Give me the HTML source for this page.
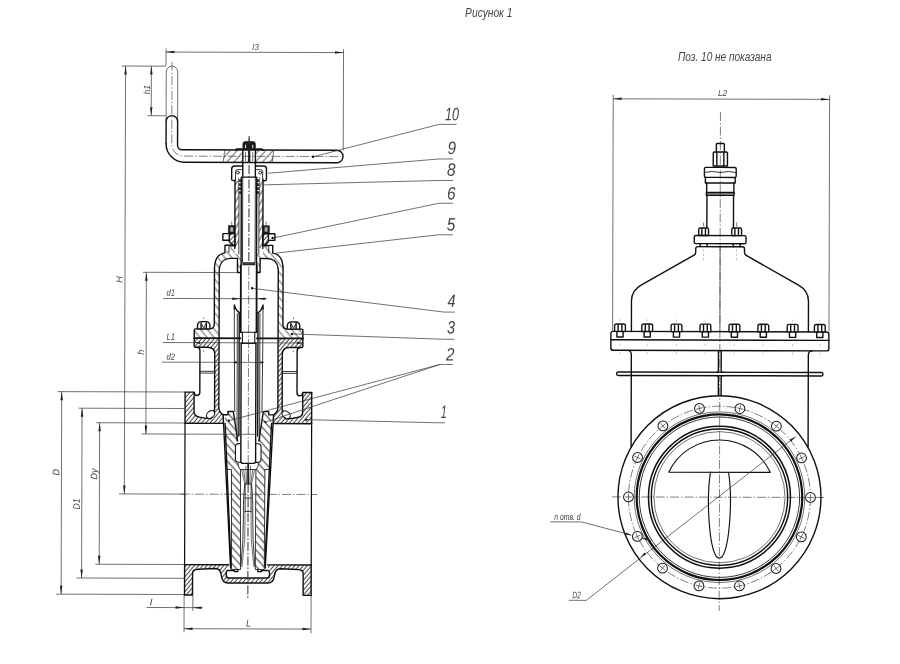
<!DOCTYPE html>
<html lang="ru"><head><meta charset="utf-8"><title>Рисунок 1</title>
<style>
html,body{margin:0;padding:0;background:#fff;}
body{width:900px;height:664px;overflow:hidden;}
svg{display:block;filter:blur(0.35px);}
.k{fill:none;stroke:#101010;stroke-width:1.4;stroke-linejoin:round;stroke-linecap:round;}
.m{fill:none;stroke:#222;stroke-width:0.9;stroke-linejoin:round;stroke-linecap:round;}
.t{fill:none;stroke:#333;stroke-width:0.7;}
.c{fill:none;stroke:#3a3a3a;stroke-width:0.65;stroke-dasharray:9 2 1.5 2;}
.d{fill:none;stroke:#888;stroke-width:0.5;stroke-dasharray:2.5 2;}
.ar{fill:#222;stroke:none;}
.bf{fill:#1a1a1a;stroke:#151515;stroke-width:0.6;}
.wf{fill:#fff;stroke:#151515;stroke-width:1.1;stroke-linejoin:round;}
.tx{font-family:"Liberation Sans",sans-serif;font-style:italic;fill:#444;}
.dot{fill:#111;}
</style></head>
<body>
<svg width="900" height="664" viewBox="0 0 900 664">
<defs>
<pattern id="hA" patternUnits="userSpaceOnUse" width="3.2" height="3.2" patternTransform="rotate(40)"><path d="M1 0V3.2" stroke="#111" stroke-width="0.8"/></pattern>
<pattern id="hD" patternUnits="userSpaceOnUse" width="5.4" height="5.4" patternTransform="rotate(-40)"><path d="M1 0V5.4" stroke="#222" stroke-width="0.7"/></pattern>
<pattern id="hT" patternUnits="userSpaceOnUse" width="4.4" height="4.4" patternTransform="rotate(30)"><path d="M1 0V4.4" stroke="#1c1c1c" stroke-width="0.8"/></pattern>
<pattern id="hB" patternUnits="userSpaceOnUse" width="5.4" height="5.4" patternTransform="rotate(-42)"><path d="M1 0V5.4" stroke="#181818" stroke-width="0.9"/></pattern>
<pattern id="hC" patternUnits="userSpaceOnUse" width="5.3" height="5.3" patternTransform="rotate(42)"><path d="M1 0V5.3" stroke="#222" stroke-width="0.7"/></pattern>
</defs>
<rect width="900" height="664" fill="#fff"/>
<g transform="rotate(0.17 249 330)">
<g id="leftview">
<path class="c" d="M248.6 136L248.6 598"/>
<path class="c" d="M181 494.3L318 494.3"/>
<path class="t" d="M165.5 121.5V72.1A5.75 5.75 0 0 1 177 72.1V121.5"/>
<path class="k" d="M165.5 144V121.6A5.75 5.75 0 0 1 177 121.6V145.5"/>
<path class="k" d="M165.5 144A18.5 18.5 0 0 0 184 162.5H336.25A6.25 6.25 0 0 0 336.25 150H181.5A4.5 4.5 0 0 1 177 145.5"/>
<path class="c" d="M171.2 62V144.5A11.8 11.8 0 0 0 183 156.3H340"/>
<path fill="url(#hC)" d="M224.3 150H242.2V162.5H222.6Z"/>
<path fill="url(#hC)" d="M255 150H273V162.5H255Z"/>
<path class="t" d="M224.3 150L222.6 162.5"/>
<path class="t" d="M273.2 150L271.6 162.5"/>
<path class="k" d="M234.8 150L236 149H261.4L262.6 150"/>
<path class="bf" d="M242.3 149.4V144A2.5 2.5 0 0 1 244.8 141.5H252.4A2.5 2.5 0 0 1 254.9 144V149.4Z"/>
<path d="M245 144.8V148.2M252.2 144.8V148.2" stroke="#ddd" stroke-width="1.1" fill="none"/>
<path class="m" d="M248.6 138.5L248.6 141.5"/>
<path class="k" d="M242.3 149.6L242.3 177.1M254.9 149.6L254.9 177.1"/>
<rect x="247.4" y="150.3" width="2.4" height="11.6" fill="#222"/>
<path class="t" d="M245 152L245 161M252.2 152L252.2 161"/>
<path class="k" d="M242.3 177.1L254.9 177.1"/>
<path class="k" d="M235 179Q235 180.7 233.6 180.7L232.6 180.7Q231.2 180.7 231.2 179L231.2 169A3 3 0 0 1 234.2 166L242.3 166M262.2 179Q262.2 180.7 263.6 180.7L264.6 180.7Q266 180.7 266 179L266 169A3 3 0 0 0 263 166L254.9 166"/>
<path class="m" d="M235 179L235 171.6A2 2 0 0 1 237 169.6L242.3 169.6M262.2 179L262.2 171.6A2 2 0 0 0 260.2 169.6L254.9 169.6"/>
<circle class="m" cx="237.4" cy="172.6" r="1.5"/>
<rect x="238.4" y="179.2" width="2.6" height="2.8" fill="#333"/>
<rect x="238.4" y="183.2" width="2.6" height="2.8" fill="#333"/>
<rect x="238.4" y="187.2" width="2.6" height="2.8" fill="#333"/>
<rect x="238.4" y="191.2" width="2.6" height="2.8" fill="#333"/>
<circle class="m" cx="259.8" cy="172.6" r="1.5"/>
<rect x="256.2" y="179.2" width="2.6" height="2.8" fill="#333"/>
<rect x="256.2" y="183.2" width="2.6" height="2.8" fill="#333"/>
<rect x="256.2" y="187.2" width="2.6" height="2.8" fill="#333"/>
<rect x="256.2" y="191.2" width="2.6" height="2.8" fill="#333"/>
<path fill="url(#hT)" d="M234.6 181H238.6V248H234.6Z"/>
<path fill="url(#hT)" d="M258.6 181H262.6V248H258.6Z"/>
<path class="k" d="M234.6 180.5L234.6 248.5M262.6 180.5L262.6 248.5"/>
<path class="m" d="M238.6 195L238.6 254M258.6 195L258.6 254"/>
<path class="t" d="M238 177.5L238 195M259.2 177.5L259.2 195"/>
<path class="k" d="M240.9 177.1L240.9 265.5M256.3 177.1L256.3 265.5"/>
<path class="m" d="M242.3 177.1L242.3 262.4M254.9 177.1L254.9 262.4"/>
<rect x="242.2" y="262.2" width="12.8" height="3.2" fill="#222"/>
<path d="M243.6 263.7H253.6" stroke="#777" stroke-width="0.5"/>
<rect class="bf" x="228.1" y="225.6" width="6.6" height="8.1"/>
<rect x="229.9" y="227.3" width="3" height="4.4" fill="#aaa"/>
<path class="t" d="M231.4 221.5L231.4 225"/>
<path class="k" d="M229 233.7H222.6V240.3H229"/>
<path fill="url(#hA)" d="M234.6 233.7L229 233.7L229 241.5L233.1 245.6L234.6 245.6Z"/>
<path class="k" d="M234.6 233.7L229 233.7L229 241.5L233.1 245.6L234.6 245.6Z"/>
<path d="M233.3 245.6H229.4" stroke="#111" stroke-width="1.8"/>
<rect class="bf" x="262.5" y="225.6" width="6.6" height="8.1"/>
<rect x="264.3" y="227.3" width="3" height="4.4" fill="#aaa"/>
<path class="t" d="M265.8 221.5L265.8 225"/>
<path class="k" d="M268.2 233.7H274.6V240.3H268.2"/>
<path fill="url(#hA)" d="M262.6 233.7L268.2 233.7L268.2 241.5L264.1 245.6L262.6 245.6Z"/>
<path class="k" d="M262.6 233.7L268.2 233.7L268.2 241.5L264.1 245.6L262.6 245.6Z"/>
<path d="M263.9 245.6H267.8" stroke="#111" stroke-width="1.8"/>
<path fill="url(#hD)" d="M234.6 247L228.7 247L224.7 253C218.1 254 214.3 259.5 214.3 269L214.3 324Q214.3 329 209.1 329L194.3 329L194.3 338.3L219.1 338.3L219.1 271C219.1 263 223.6 258.4 230.6 258.4L237.3 258.4L237.3 272.5L240.8 272.5L240.8 254L234.6 254Z"/>
<path fill="url(#hD)" d="M262.6 247L268.5 247L272.5 253C279.1 254 282.9 259.5 282.9 269L282.9 324Q282.9 329 288.1 329L302.9 329L302.9 338.3L278.1 338.3L278.1 271C278.1 263 273.6 258.4 266.6 258.4L259.9 258.4L259.9 272.5L256.4 272.5L256.4 254L262.6 254Z"/>
<path class="k" d="M234.6 245.3L224.7 245.3L224.7 253C218.1 254 214.3 259.5 214.3 269L214.3 324Q214.3 329 209.1 329L195.3 329Q194.3 329 194.3 330L194.3 338.3M262.6 245.3L272.5 245.3L272.5 253C279.1 254 282.9 259.5 282.9 269L282.9 324Q282.9 329 288.1 329L301.9 329Q302.9 329 302.9 330L302.9 338.3"/>
<path class="m" d="M228.7 245.3L228.7 252.5M268.5 245.3L268.5 252.5"/>
<path class="k" d="M219.1 338.3L219.1 271C219.1 263 223.6 258.4 230.6 258.4L237.3 258.4L237.3 272.5L240.8 272.5L240.8 265.5M278.1 338.3L278.1 271C278.1 263 273.6 258.4 266.6 258.4L259.9 258.4L259.9 272.5L256.4 272.5L256.4 265.5"/>
<path fill="url(#hA)" d="M219.1 338.3L194.3 338.3L194.3 346.4Q194.3 347.4 195.3 347.4L207.6 347.4Q214.8 347.4 214.8 354L214.8 409Q214.8 414 211.1 418.6L206.6 418.5L199.6 417.3Q194.3 416.5 194.3 412L194.3 392.3L185.3 392.3L185.3 423.5L223.4 423.5L223.4 414.8Q219.1 412 219.1 408L219.1 338.3Z"/>
<path fill="url(#hA)" d="M278.1 338.3L302.9 338.3L302.9 346.4Q302.9 347.4 301.9 347.4L289.6 347.4Q282.4 347.4 282.4 354L282.4 409Q282.4 414 286.1 418.6L290.6 418.5L297.6 417.3Q302.9 416.5 302.9 412L302.9 392.3L311.9 392.3L311.9 423.5L273.8 423.5L273.8 414.8Q278.1 412 278.1 408L278.1 338.3Z"/>
<path class="k" d="M194.3 338.3H302.9" style="stroke-width:1.7"/>
<path class="k" d="M194.3 338.3L194.3 346.4Q194.3 347.4 195.3 347.4L207.6 347.4Q214.8 347.4 214.8 354L214.8 409Q214.8 414 211.1 418.6M302.9 338.3L302.9 346.4Q302.9 347.4 301.9 347.4L289.6 347.4Q282.4 347.4 282.4 354L282.4 409Q282.4 414 286.1 418.6"/>
<path class="k" d="M197.1 347.4Q200 347.6 200 351L200 392.5C200 396.6 195 396.9 194.3 392.6M300.1 347.4Q297.2 347.6 297.2 351L297.2 392.5C297.2 396.6 302.2 396.9 302.9 392.6"/>
<path class="m" d="M200 371.4L214.8 371.4M200 373.2L214.8 373.2M297.2 371.4L282.4 371.4M297.2 373.2L282.4 373.2"/>
<path class="k" d="M185.3 392.3L194.3 392.3L194.3 412Q194.3 416.5 199.6 417.3L206.6 418.5L211.1 418.6M311.9 392.3L302.9 392.3L302.9 412Q302.9 416.5 297.6 417.3L290.6 418.5L286.1 418.6"/>
<ellipse class="wf" cx="210.8" cy="414.6" rx="4.6" ry="3.3" transform="rotate(-38 210.8 414.6)"/>
<ellipse class="wf" cx="286.4" cy="414.6" rx="4.6" ry="3.3" transform="rotate(38 286.4 414.6)"/>
<path class="k" d="M219.1 338.3L219.1 408Q219.1 412 223.4 414.8M278.1 338.3L278.1 408Q278.1 412 273.8 414.8"/>
<path class="k" d="M185.3 392.3L185.3 423.5M185.3 564.8L185.3 595.2M311.9 392.3L311.9 423.5M311.9 564.8L311.9 595.2"/>
<path class="k" d="M185.3 423.5L185.3 564.8M311.9 423.5L311.9 564.8" style="stroke-width:1.25"/>
<path class="k" d="M185.3 423.5L223.8 423.5M311.9 423.5L273.4 423.5"/>
<path class="wf" style="stroke-width:1.4" d="M197.5 329V325.2Q198.1 321.8 201.2 321.8H206.2Q209.3 321.8 209.9 325.2V329Z"/>
<path class="k" d="M201.1 323V329M206.3 323V329"/>
<path class="m" d="M201.7 324L203.7 328.5L205.7 324"/>
<path class="t" d="M203.7 317.3L203.7 319"/>
<path class="t" d="M203.7 350.5L203.7 352"/>
<path class="wf" style="stroke-width:1.4" d="M287.3 329V325.2Q287.9 321.8 291 321.8H296Q299.1 321.8 299.7 325.2V329Z"/>
<path class="k" d="M290.9 323V329M296.1 323V329"/>
<path class="m" d="M291.5 324L293.5 328.5L295.5 324"/>
<path class="t" d="M293.5 317.3L293.5 319"/>
<path class="t" d="M293.5 350.5L293.5 352"/>
<path fill="url(#hA)" d="M185.3 564.8L229.3 564.8L228.3 570.5Q227 571 227 573L227 575.5Q227 578 229.6 578L248.6 578L248.6 583L228.6 583Q223.1 583 222.1 576Q221.4 568.6 216.1 568.6L198.6 568.6Q193.3 568.6 193.3 573L193.3 595.2L185.3 595.2Z"/>
<path fill="url(#hA)" d="M311.9 564.8L267.9 564.8L268.9 570.5Q270.2 571 270.2 573L270.2 575.5Q270.2 578 267.6 578L248.6 578L248.6 583L268.6 583Q274.1 583 275.1 576Q275.8 568.6 281.1 568.6L298.6 568.6Q303.9 568.6 303.9 573L303.9 595.2L311.9 595.2Z"/>
<path class="k" d="M185.3 564.8L229.3 564.8M311.9 564.8L267.9 564.8"/>
<path class="k" d="M248.6 583L228.6 583Q223.1 583 222.1 576Q221.4 568.6 216.1 568.6L198.6 569.4Q193.3 569.6 193.3 573.5L193.3 595.2L185.3 595.2M248.6 583L268.6 583Q274.1 583 275.1 576Q275.8 568.6 281.1 568.6L298.6 569.4Q303.9 569.6 303.9 573.5L303.9 595.2L311.9 595.2"/>
<path class="k" d="M248.6 578L229.6 578Q227 578 227 575.5L227 573Q227 571 228.3 570.5L235.1 570.3L235.1 571.6L238.6 571.6L238.6 569.5M248.6 578L267.6 578Q270.2 578 270.2 575.5L270.2 573Q270.2 571 268.9 570.5L262.1 570.3L262.1 571.6L258.6 571.6L258.6 569.5"/>
<path fill="url(#hB)" d="M225.2 416L227.8 469.5L231.9 469.5L232.2 569.5L241.2 569.5L240.9 470L238.6 466L238.6 463.5L235.6 461L235.6 445L237.6 441L237 434L233.6 411.6L228.2 411.6L228.2 414.8Z"/>
<path class="k" d="M223.4 414.8L231.3 568"/>
<path class="k" d="M225.4 423.5L231.7 566"/>
<path class="m" d="M227.8 469.5L231.9 469.5L232.2 569.5L241.2 569.5L240.9 470L238.6 466L238.6 463.5"/>
<path class="k" d="M223.4 414.8L228.2 414.8L228.2 411.6L233.6 411.6L237 434L237.6 441"/>
<circle class="dot" cx="229.2" cy="420.7" r="1.1"/>
<path fill="url(#hB)" d="M272 416L269.4 469.5L265.3 469.5L265 569.5L256 569.5L256.3 470L258.6 466L258.6 463.5L261.6 461L261.6 445L259.6 441L260.2 434L263.6 411.6L269 411.6L269 414.8Z"/>
<path class="k" d="M273.8 414.8L265.9 568"/>
<path class="k" d="M271.8 423.5L265.5 566"/>
<path class="m" d="M269.4 469.5L265.3 469.5L265 569.5L256 569.5L256.3 470L258.6 466L258.6 463.5"/>
<path class="k" d="M273.8 414.8L269 414.8L269 411.6L263.6 411.6L260.2 434L259.6 441"/>
<circle class="dot" cx="265.7" cy="422" r="1.1"/>
<rect class="wf" x="235.8" y="443.7" width="25.6" height="18.6" rx="3.2"/>
<path class="m" d="M234.3 306L234.3 338M234.3 338.3L235 411.6M262.9 306L262.9 338M262.9 338.3L262.2 411.6"/>
<path class="m" d="M237.3 313.5L237.3 434L238.2 441M259.9 313.5L259.9 434L259 441"/>
<path class="k" d="M239.2 312.5L239.2 436M258 312.5L258 436"/>
<path class="k" d="M234.3 309L234.3 305Q235.6 310.5 239.2 312.5M262.9 309L262.9 305Q261.6 310.5 258 312.5"/>
<path d="M241 265.5V461.5Q241 463.4 243 463.4H254.2Q256.2 463.4 256.2 461.5V265.5Z" fill="#fff"/>
<path class="k" d="M240.7 265.5L240.7 332.2M256.5 265.5L256.5 332.2" style="stroke-width:1.8"/>
<path class="k" d="M241.2 343.4L241.2 461.3Q241.2 463.4 243.2 463.4L248.6 463.4M256 343.4L256 461.3Q256 463.4 254 463.4L248.6 463.4"/>
<rect class="wf" x="242.4" y="332.2" width="12.4" height="11.2"/>
<path class="k" d="M242.4 332.4L240.7 332.4M242.4 343.2L241.2 343.2M254.8 332.4L256.5 332.4M254.8 343.2L256 343.2"/>
<path class="c" d="M248.6 136L248.6 598"/>
<path class="t" d="M242.1 469.5L245.2 484M244 469.5L246 484M246.2 466L247 484M255.1 469.5L252 484M253.2 469.5L251.2 484M251 466L250.2 484"/>
<path class="m" d="M240.9 469.5L256.3 469.5"/>
<rect x="247.7" y="464" width="1.8" height="20" fill="#222"/>
<path class="m" d="M245.6 484L245.6 511.6M248.6 484L245.6 484M248.6 498L245.6 498M248.6 511.6L245.6 511.6M251.6 484L251.6 511.6M248.6 484L251.6 484M248.6 498L251.6 498M248.6 511.6L251.6 511.6"/>
<path class="m" d="M245.2 484Q243.6 500 244 512Q244.3 540 241.6 566M252 484Q253.6 500 253.2 512Q252.9 540 255.6 566"/>
<path class="t" d="M245.6 512Q246.6 540 242.6 567M251.6 512Q250.6 540 254.6 567"/>
</g>
<g id="dims">
<path class="t" d="M165.2 48.8L165.2 66"/>
<path class="t" d="M342.7 49L342.7 150"/>
<path class="t" d="M165 52.3L342.7 52.3"/>
<path class="ar" d="M165 52.3L173.5 51.05L173.5 53.55Z"/>
<path class="ar" d="M342.7 52.3L334.2 53.55L334.2 51.05Z"/>
<text class="tx" x="251.5" y="50" font-size="8.5" textLength="6.5" lengthAdjust="spacingAndGlyphs">l3</text>
<path class="t" d="M121 66.4L165 66.4"/>
<path class="t" d="M147 116L165 116"/>
<path class="t" d="M150.6 66.4L150.6 116"/>
<path class="ar" d="M150.6 66.4L151.85 74.9L149.35 74.9Z"/>
<path class="ar" d="M150.6 116L149.35 107.5L151.85 107.5Z"/>
<text class="tx" x="149.4" y="94.8" font-size="9" textLength="9.6" lengthAdjust="spacingAndGlyphs" transform="rotate(-90 149.4 94.8)">h1</text>
<path class="t" d="M119.5 494.3L184.6 494.3"/>
<path class="t" d="M124.8 66.4L124.8 494.3"/>
<path class="ar" d="M124.8 66.4L126.05 74.9L123.55 74.9Z"/>
<path class="ar" d="M124.8 494.3L123.55 485.8L126.05 485.8Z"/>
<text class="tx" x="122.4" y="283" font-size="9.5" textLength="6.5" lengthAdjust="spacingAndGlyphs" transform="rotate(-90 122.4 283)">H</text>
<path class="t" d="M142.8 272.6L237 272.6"/>
<path class="t" d="M141.7 434.3L256.6 434.3"/>
<path class="t" d="M146.2 272.6L146.2 434.3"/>
<path class="ar" d="M146.2 272.6L147.45 281.1L144.95 281.1Z"/>
<path class="ar" d="M146.2 434.3L144.95 425.8L147.45 425.8Z"/>
<text class="tx" x="144" y="355" font-size="9.5" textLength="5" lengthAdjust="spacingAndGlyphs" transform="rotate(-90 144 355)">h</text>
<path class="t" d="M163 298.7L267 298.7"/>
<path class="ar" d="M240.6 298.7L232.1 299.95L232.1 297.45Z"/>
<path class="ar" d="M256.6 298.7L265.1 297.45L265.1 299.95Z"/>
<text class="tx" x="166.5" y="296" font-size="9" textLength="8.5" lengthAdjust="spacingAndGlyphs">d1</text>
<path class="t" d="M163 342.8L302.9 342.8"/>
<path class="ar" d="M194.3 342.8L200.3 341.55L200.3 344.05Z"/>
<path class="ar" d="M302.9 342.8L296.9 344.05L296.9 341.55Z"/>
<text class="tx" x="166.5" y="340" font-size="9" textLength="8.5" lengthAdjust="spacingAndGlyphs">L1</text>
<path class="t" d="M162 362.4L264 362.4"/>
<path class="ar" d="M233.3 362.4L236.8 361.1L236.8 363.7Z"/>
<path class="ar" d="M264 362.4L260.5 363.7L260.5 361.1Z"/>
<text class="tx" x="166.5" y="360" font-size="9" textLength="8.5" lengthAdjust="spacingAndGlyphs">d2</text>
<path class="t" d="M58 392.2L185 392.2"/>
<path class="t" d="M57 594.7L185 594.7"/>
<path class="t" d="M61.9 392.2L61.9 594.7"/>
<path class="ar" d="M61.9 392.2L63.15 400.7L60.65 400.7Z"/>
<path class="ar" d="M61.9 594.7L60.65 586.2L63.15 586.2Z"/>
<text class="tx" x="59.8" y="476" font-size="9.5" textLength="6.5" lengthAdjust="spacingAndGlyphs" transform="rotate(-90 59.8 476)">D</text>
<path class="t" d="M78.9 408.7L185 408.7"/>
<path class="t" d="M77.3 578.5L185 578.5"/>
<path class="t" d="M82.3 408.7L82.3 578.5"/>
<path class="ar" d="M82.3 408.7L83.55 417.2L81.05 417.2Z"/>
<path class="ar" d="M82.3 578.5L81.05 570L83.55 570Z"/>
<text class="tx" x="80.2" y="510" font-size="9.5" textLength="11" lengthAdjust="spacingAndGlyphs" transform="rotate(-90 80.2 510)">D1</text>
<path class="t" d="M96.5 423.2L185 423.2"/>
<path class="t" d="M96 564.7L185 564.7"/>
<path class="t" d="M99.9 423.2L99.9 564.7"/>
<path class="ar" d="M99.9 423.2L101.15 431.7L98.65 431.7Z"/>
<path class="ar" d="M99.9 564.7L98.65 556.2L101.15 556.2Z"/>
<text class="tx" x="97.6" y="480" font-size="9.5" textLength="11" lengthAdjust="spacingAndGlyphs" transform="rotate(-90 97.6 480)">Dy</text>
<path class="t" d="M184.9 595L184.9 632.5"/>
<path class="t" d="M193.7 595L193.7 611"/>
<path class="t" d="M147.3 607.8L203.8 607.8"/>
<path class="ar" d="M184.9 607.8L176.4 609.05L176.4 606.55Z"/>
<path class="ar" d="M193.7 607.8L202.2 606.55L202.2 609.05Z"/>
<text class="tx" x="150.5" y="605.5" font-size="9" textLength="2.5" lengthAdjust="spacingAndGlyphs">l</text>
<path class="t" d="M311.9 595.5L311.9 633"/>
<path class="t" d="M184.9 628.9L311.9 628.9"/>
<path class="ar" d="M184.9 628.9L193.4 627.65L193.4 630.15Z"/>
<path class="ar" d="M311.9 628.9L303.4 630.15L303.4 627.65Z"/>
<text class="tx" x="247" y="626.5" font-size="9.5" textLength="5" lengthAdjust="spacingAndGlyphs">L</text>
<path class="t" d="M312.5 156.6L438.5 123.8"/>
<path class="t" d="M438.5 123.8L456 123.8"/>
<circle class="dot" cx="312.5" cy="156.6" r="1.2"/>
<text class="tx" x="444.4" y="119.6" font-size="18" textLength="14" lengthAdjust="spacingAndGlyphs">10</text>
<path class="t" d="M267.7 173.2L438.5 158.4"/>
<path class="t" d="M438.5 158.4L452.6 158.4"/>
<text class="tx" x="447" y="153.5" font-size="18" textLength="8.5" lengthAdjust="spacingAndGlyphs">9</text>
<path class="t" d="M263.8 184.8L438.5 179.9"/>
<path class="t" d="M438.5 179.9L452.6 179.9"/>
<text class="tx" x="446.5" y="175.2" font-size="18" textLength="8.5" lengthAdjust="spacingAndGlyphs">8</text>
<path class="t" d="M272.3 238L438.5 202.7"/>
<path class="t" d="M438.5 202.7L452.6 202.7"/>
<circle class="dot" cx="272.3" cy="238" r="1.2"/>
<text class="tx" x="446.5" y="199" font-size="18" textLength="8.5" lengthAdjust="spacingAndGlyphs">6</text>
<path class="t" d="M275.4 253.1L438.5 234.2"/>
<path class="t" d="M438.5 234.2L452.6 234.2"/>
<text class="tx" x="446.5" y="229.8" font-size="18" textLength="8.5" lengthAdjust="spacingAndGlyphs">5</text>
<path class="t" d="M252 288.3L444 311.5"/>
<path class="t" d="M444 311.5L454.8 311.5"/>
<circle class="dot" cx="252" cy="288.3" r="1.2"/>
<text class="tx" x="447.5" y="306.3" font-size="18" textLength="8" lengthAdjust="spacingAndGlyphs">4</text>
<path class="t" d="M292 333.8L445 338.7"/>
<path class="t" d="M445 338.7L454.5 338.7"/>
<circle class="dot" cx="292" cy="333.8" r="1.2"/>
<text class="tx" x="447" y="332.9" font-size="18" textLength="8" lengthAdjust="spacingAndGlyphs">3</text>
<path class="t" d="M229.3 420.7L440 363.9"/>
<path class="t" d="M440 363.9L453 363.9"/>
<text class="tx" x="446" y="360" font-size="18" textLength="8.5" lengthAdjust="spacingAndGlyphs">2</text>
<path class="t" d="M265.8 422L440 363.9"/>
<path class="t" d="M306.4 419.5L437 422.2"/>
<path class="t" d="M437 422.2L445 422.2"/>
<circle class="dot" cx="306.4" cy="419.5" r="1.2"/>
<text class="tx" x="441" y="417.5" font-size="18" textLength="6" lengthAdjust="spacingAndGlyphs">1</text>
</g>
</g>
<g transform="rotate(0.15 720 330)">
<g id="rightview">
<path class="c" d="M719.9 112L719.9 611"/>
<path class="c" d="M612.5 497.2L826.5 497.2"/>
<path class="k" d="M715.9 152L715.9 144.3Q715.9 143.5 716.7 143.5L719.9 143.5M723.9 152L723.9 144.3Q723.9 143.5 723.1 143.5L719.9 143.5"/>
<path class="k" d="M712.8 166L712.8 153L713.6 152L719.9 152M712.8 166L719.9 166M727 166L727 153L726.2 152L719.9 152M727 166L719.9 166" style="stroke-width:1.4"/>
<path class="k" d="M716.4 152L716.4 166M723.4 152L723.4 166"/>
<path class="k" d="M719.9 167.4L705.5 167.4Q704 167.4 704 169L704 176Q704 177.4 705 177.4L719.9 177.4M719.9 167.4L734.3 167.4Q735.8 167.4 735.8 169L735.8 176Q735.8 177.4 734.8 177.4L719.9 177.4"/>
<path class="m" d="M704 172.5Q711.9 170.3 719.9 172.5M735.8 172.5Q727.9 170.3 719.9 172.5"/>
<path class="k" d="M705 177.4L705 183L719.9 183M734.8 177.4L734.8 183L719.9 183"/>
<path class="k" d="M706.3 183L706.3 192.4L719.9 192.4M706 192.4L706 195.3M719.9 195.3L706 195.3M733.5 183L733.5 192.4L719.9 192.4M733.8 192.4L733.8 195.3M719.9 195.3L733.8 195.3"/>
<path class="m" d="M719.9 193.8L706 193.8M719.9 193.8L733.8 193.8"/>
<path class="k" d="M706.6 195.3L706.6 235.6M733.2 195.3L733.2 235.6"/>
<path class="wf" style="stroke-width:1.4" d="M698.5 235.6V229.6Q698.5 228 700 228H706.8Q708.3 228 708.3 229.6V235.6Z"/>
<path class="k" d="M701.6 228.6V235.4M705.2 228.6V235.4"/>
<path class="t" d="M703.4 222.5L703.4 226.5"/>
<path class="k" d="M700 243.7V246.7M706.8 243.7V246.7"/>
<path class="d" d="M703.4 249V262"/>
<path class="wf" style="stroke-width:1.4" d="M731.5 235.6V229.6Q731.5 228 733 228H739.8Q741.3 228 741.3 229.6V235.6Z"/>
<path class="k" d="M734.6 228.6V235.4M738.2 228.6V235.4"/>
<path class="t" d="M736.4 222.5L736.4 226.5"/>
<path class="k" d="M733 243.7V246.7M739.8 243.7V246.7"/>
<path class="d" d="M736.4 249V262"/>
<path class="t" d="M719.9 246.7L719.9 331.7"/>
<rect class="k" x="694" y="235.6" width="51.8" height="8.1" rx="1.6"/>
<path class="k" d="M719.9 246.7L697.5 246.7Q695.5 246.7 695.5 249L695.5 252.5Q695.5 254.3 693.4 255.5L641.4 285Q631.4 290.5 631.4 301L631.4 331.7M719.9 246.7L742.3 246.7Q744.3 246.7 744.3 249L744.3 252.5Q744.3 254.3 746.4 255.5L798.4 285Q808.4 290.5 808.4 301L808.4 331.7"/>
<rect class="k" x="610.9" y="331.7" width="218" height="18.9" rx="2.2"/>
<path class="k" d="M610.9 340.1L828.9 340.1"/>
<path class="wf" style="stroke-width:1.4" d="M614.6 331.7V326Q614.6 324.2 616.4 324.2H623.6Q625.4 324.2 625.4 326V331.7Z"/>
<path class="k" d="M618.1 325V331.5M621.9 325V331.5"/>
<path class="k" d="M616.9 332V337.2H623.1V332"/>
<path class="d" d="M620 319.5V321.5M620 344V346M620 352.5V354.5"/>
<path class="wf" style="stroke-width:1.4" d="M641.8 331.7V326Q641.8 324.2 643.6 324.2H650.8Q652.6 324.2 652.6 326V331.7Z"/>
<path class="k" d="M645.3 325V331.5M649.1 325V331.5"/>
<path class="k" d="M644.1 332V337.2H650.3V332"/>
<path class="d" d="M647.2 319.5V321.5M647.2 344V346M647.2 352.5V354.5"/>
<path class="wf" style="stroke-width:1.4" d="M671.1 331.7V326Q671.1 324.2 672.9 324.2H680.1Q681.9 324.2 681.9 326V331.7Z"/>
<path class="k" d="M674.6 325V331.5M678.4 325V331.5"/>
<path class="k" d="M673.4 332V337.2H679.6V332"/>
<path class="d" d="M676.5 319.5V321.5M676.5 344V346M676.5 352.5V354.5"/>
<path class="wf" style="stroke-width:1.4" d="M700 331.7V326Q700 324.2 701.8 324.2H709Q710.8 324.2 710.8 326V331.7Z"/>
<path class="k" d="M703.5 325V331.5M707.3 325V331.5"/>
<path class="k" d="M702.3 332V337.2H708.5V332"/>
<path class="d" d="M705.4 319.5V321.5M705.4 344V346M705.4 352.5V354.5"/>
<path class="wf" style="stroke-width:1.4" d="M729 331.7V326Q729 324.2 730.8 324.2H738Q739.8 324.2 739.8 326V331.7Z"/>
<path class="k" d="M732.5 325V331.5M736.3 325V331.5"/>
<path class="k" d="M731.3 332V337.2H737.5V332"/>
<path class="d" d="M734.4 319.5V321.5M734.4 344V346M734.4 352.5V354.5"/>
<path class="wf" style="stroke-width:1.4" d="M757.9 331.7V326Q757.9 324.2 759.7 324.2H766.9Q768.7 324.2 768.7 326V331.7Z"/>
<path class="k" d="M761.4 325V331.5M765.2 325V331.5"/>
<path class="k" d="M760.2 332V337.2H766.4V332"/>
<path class="d" d="M763.3 319.5V321.5M763.3 344V346M763.3 352.5V354.5"/>
<path class="wf" style="stroke-width:1.4" d="M787.2 331.7V326Q787.2 324.2 789 324.2H796.2Q798 324.2 798 326V331.7Z"/>
<path class="k" d="M790.7 325V331.5M794.5 325V331.5"/>
<path class="k" d="M789.5 332V337.2H795.7V332"/>
<path class="d" d="M792.6 319.5V321.5M792.6 344V346M792.6 352.5V354.5"/>
<path class="wf" style="stroke-width:1.4" d="M814.4 331.7V326Q814.4 324.2 816.2 324.2H823.4Q825.2 324.2 825.2 326V331.7Z"/>
<path class="k" d="M817.9 325V331.5M821.7 325V331.5"/>
<path class="k" d="M816.7 332V337.2H822.9V332"/>
<path class="d" d="M819.8 319.5V321.5M819.8 344V346M819.8 352.5V354.5"/>
<path class="k" d="M627.9 350.6Q631.4 351 631.4 355L631.4 447.3M811.9 350.6Q808.4 351 808.4 355L808.4 447.3"/>
<rect class="k" x="616.7" y="372.3" width="206.4" height="3.4" rx="1.7"/>
<path class="k" d="M718.5 350.6L718.5 370.8Q718.5 372.3 716.9 372.3M716.9 375.7Q718.5 375.7 718.5 377.2L718.5 395.8M721.3 350.6L721.3 370.8Q721.3 372.3 722.9 372.3M722.9 375.7Q721.3 375.7 721.3 377.2L721.3 395.8"/>
<rect x="717.9" y="372.9" width="4" height="2.2" fill="#fff"/>
<circle class="k" cx="719.9" cy="497.2" r="101.5"/>
<circle class="c" cx="719.9" cy="497.2" r="91"/>
<circle class="t" cx="719.9" cy="497.2" r="85.3"/>
<circle class="k" cx="719.9" cy="497.2" r="82.8" style="stroke-width:2.2"/>
<circle class="m" cx="719.9" cy="497.2" r="80.2"/>
<circle class="k" cx="719.9" cy="497.2" r="71" style="stroke-width:1.5"/>
<circle class="k" cx="719.9" cy="497.2" r="68.2"/>
<circle class="t" cx="719.9" cy="497.2" r="65.6"/>
<circle class="wf" cx="810.9" cy="497.2" r="4.9" style="stroke-width:1"/>
<path class="t" d="M807.5 497.2L814.3 497.2"/>
<path class="t" d="M810.9 493.8L810.9 500.6"/>
<circle class="wf" cx="801.89" cy="536.68" r="4.9" style="stroke-width:1"/>
<path class="t" d="M798.82 535.21L804.95 538.16"/>
<path class="t" d="M803.36 533.62L800.41 539.75"/>
<circle class="wf" cx="776.64" cy="568.35" r="4.9" style="stroke-width:1"/>
<path class="t" d="M774.52 565.69L778.76 571"/>
<path class="t" d="M779.3 566.23L773.98 570.47"/>
<circle class="wf" cx="740.15" cy="585.92" r="4.9" style="stroke-width:1"/>
<path class="t" d="M739.39 582.6L740.91 589.23"/>
<path class="t" d="M743.46 585.16L736.83 586.68"/>
<circle class="wf" cx="699.65" cy="585.92" r="4.9" style="stroke-width:1"/>
<path class="t" d="M700.41 582.6L698.89 589.23"/>
<path class="t" d="M702.97 586.68L696.34 585.16"/>
<circle class="wf" cx="663.16" cy="568.35" r="4.9" style="stroke-width:1"/>
<path class="t" d="M665.28 565.69L661.04 571"/>
<path class="t" d="M665.82 570.47L660.5 566.23"/>
<circle class="wf" cx="637.91" cy="536.68" r="4.9" style="stroke-width:1"/>
<path class="t" d="M640.98 535.21L634.85 538.16"/>
<path class="t" d="M639.39 539.75L636.44 533.62"/>
<circle class="wf" cx="628.9" cy="497.2" r="4.9" style="stroke-width:1"/>
<path class="t" d="M632.3 497.2L625.5 497.2"/>
<path class="t" d="M628.9 500.6L628.9 493.8"/>
<circle class="wf" cx="637.91" cy="457.72" r="4.9" style="stroke-width:1"/>
<path class="t" d="M640.98 459.19L634.85 456.24"/>
<path class="t" d="M636.44 460.78L639.39 454.65"/>
<circle class="wf" cx="663.16" cy="426.05" r="4.9" style="stroke-width:1"/>
<path class="t" d="M665.28 428.71L661.04 423.4"/>
<path class="t" d="M660.5 428.17L665.82 423.93"/>
<circle class="wf" cx="699.65" cy="408.48" r="4.9" style="stroke-width:1"/>
<path class="t" d="M700.41 411.8L698.89 405.17"/>
<path class="t" d="M696.34 409.24L702.97 407.72"/>
<circle class="wf" cx="740.15" cy="408.48" r="4.9" style="stroke-width:1"/>
<path class="t" d="M739.39 411.8L740.91 405.17"/>
<path class="t" d="M736.83 407.72L743.46 409.24"/>
<circle class="wf" cx="776.64" cy="426.05" r="4.9" style="stroke-width:1"/>
<path class="t" d="M774.52 428.71L778.76 423.4"/>
<path class="t" d="M773.98 423.93L779.3 428.17"/>
<circle class="wf" cx="801.89" cy="457.72" r="4.9" style="stroke-width:1"/>
<path class="t" d="M798.82 459.19L804.95 456.24"/>
<path class="t" d="M800.41 454.65L803.36 460.78"/>
<path class="k" d="M669.2 472.2A56 56 0 0 1 770.6 472.2Z" style="stroke-width:1.15"/>
<path class="k" d="M710.9 472.2C706.7 498 709.4 545 716.9 556.5Q719.9 559.5 722.9 556.5C730.4 545 733.1 498 728.9 472.2" style="stroke-width:1.15"/>
</g>
<g id="dimsR">
<path class="t" d="M612.6 95L612.6 331"/>
<path class="t" d="M829 95L829 331"/>
<path class="t" d="M612.6 99.1L829 99.1"/>
<path class="ar" d="M612.6 99.1L621.1 97.85L621.1 100.35Z"/>
<path class="ar" d="M829 99.1L820.5 100.35L820.5 97.85Z"/>
<text class="tx" x="717.5" y="96" font-size="8.5" textLength="9" lengthAdjust="spacingAndGlyphs">L2</text>
<path class="t" d="M550.8 522.3L582.1 522.3"/>
<path class="t" d="M582.1 522.3L632 535.4"/>
<path class="ar" d="M632 535.4L625.88 535.09L626.51 532.67Z"/>
<path class="ar" d="M642.3 538.1L648.42 538.41L647.79 540.83Z"/>
<path class="t" d="M642.3 538.1L651.6 540.6"/>
<text class="tx" x="554.7" y="520.4" font-size="9.5" textLength="26.5" lengthAdjust="spacingAndGlyphs">n отв. d</text>
<path class="t" d="M569.4 600.7L587 600.7"/>
<path class="t" d="M587 600.7L795.7 436.5"/>
<path class="ar" d="M640.9 557.6L645.24 552.6L646.78 554.56Z"/>
<path class="ar" d="M795.7 436.5L791.36 441.5L789.82 439.54Z"/>
<text class="tx" x="572.9" y="598.7" font-size="9.5" textLength="8.6" lengthAdjust="spacingAndGlyphs">D2</text>
</g>
</g>
<text class="tx" x="465.1" y="17.1" font-size="12" textLength="47.4" lengthAdjust="spacingAndGlyphs">Рисунок 1</text>
<text class="tx" x="678" y="61.1" font-size="13" textLength="93.5" lengthAdjust="spacingAndGlyphs">Поз. 10 не показана</text>
</svg>
</body></html>
